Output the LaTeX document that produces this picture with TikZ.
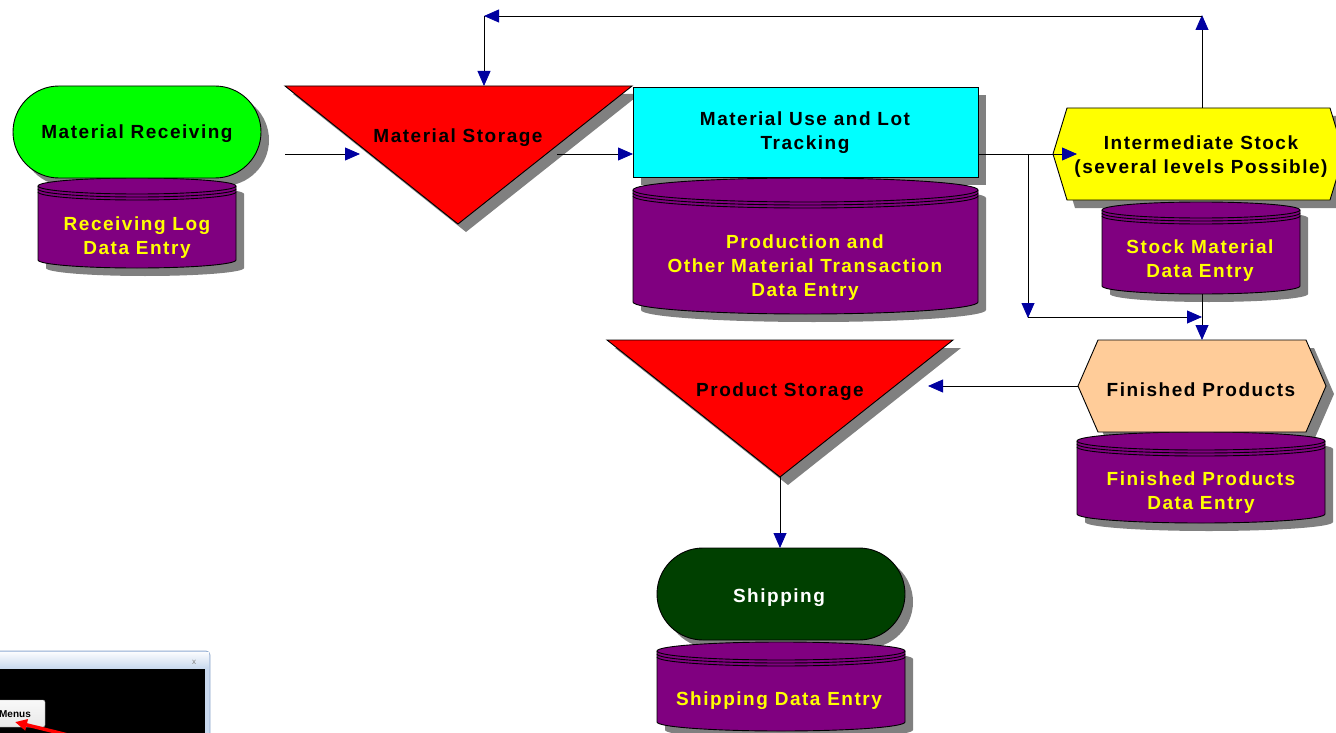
\documentclass[tikz,border=0pt]{standalone}
\usepackage{fontspec}
\setmainfont{Liberation Sans}[LetterSpace=8]
\newfontfamily\uifont{Liberation Sans}
\usetikzlibrary{arrows.meta}
\definecolor{cylpurple}{HTML}{800080}
\definecolor{shadowgray}{HTML}{808080}
\definecolor{arrowblue}{HTML}{0000A0}
\definecolor{brightgreen}{HTML}{00FF00}
\definecolor{brightcyan}{HTML}{00FFFF}
\definecolor{brightyellow}{HTML}{FFFF00}
\definecolor{brightred}{HTML}{FF0000}
\definecolor{peach}{HTML}{FFCC99}
\definecolor{darkgreen}{HTML}{004000}
\definecolor{textyellow}{HTML}{FFFF00}
\definecolor{framebl}{HTML}{C9D9EE}
\definecolor{frameedge}{HTML}{8EA8CC}
\tikzset{
  lbl/.style={font=\bfseries\fontsize{19}{24}\selectfont, align=center, inner sep=0pt, yshift=-2.5pt},
  ylbl/.style={lbl, text=textyellow},
  shd/.style={fill=shadowgray, draw=none, shift={(8,8)}},
  outline/.style={draw=black, line width=0.9pt},
  conn/.style={draw=black, line width=0.8pt, -{Triangle[length=15pt,width=13pt,color=arrowblue]}},
}
\newcommand\stadiumpath[5][]{%
  \pgfmathsetmacro\rst{(#5-#3)/2}%
  \path[#1] ({#2+\rst},#3) -- ({#4-\rst},#3) arc[start angle=-90,end angle=90,radius=\rst] -- ({#2+\rst},#5) arc[start angle=90,end angle=270,radius=\rst] -- cycle;}
\newcommand\cylpath[6][]{%
  \pgfmathsetmacro\rxc{(#3-#2)/2}%
  \path[#1] (#2,{#4+#6}) -- (#2,{#5-#6}) arc[start angle=180,end angle=0,x radius=\rxc,y radius=#6] -- (#3,{#4+#6}) arc[start angle=0,end angle=-180,x radius=\rxc,y radius=#6] -- cycle;}
\newcommand\cyllines[4]{%
  \pgfmathsetmacro\rxc{(#2-#1)/2}%
  \foreach \o in {0,3,6} {\draw[outline] (#1,{#3+#4+\o}) arc[start angle=180,end angle=0,x radius=\rxc,y radius=#4];}}
\begin{document}
\begin{tikzpicture}[x=1pt,y=-1pt]
\useasboundingbox (0,0) rectangle (1336,733);
\clip (0,0) rectangle (1336,733);
% ---------- shadows ----------
\stadiumpath[shd]{13}{86}{261}{178}
\cylpath[shd]{38}{236}{178}{268}{8}
\path[shd] (285,86) -- (632,86) -- (458,224) -- cycle;
\path[shd] (633,87) rectangle (978,177);
\cylpath[shd]{633}{978}{178}{314}{12}
\path[shd] (1053,154) -- (1067,108) -- (1330,108) -- (1344,154) -- (1330,200) -- (1067,200) -- cycle;
\cylpath[shd]{1102}{1300}{202}{294}{8}
\path[shd] (1078,386) -- (1098,340) -- (1306,340) -- (1326,386) -- (1306,432) -- (1098,432) -- cycle;
\cylpath[shd]{1077}{1325}{432}{523}{9}
\path[shd] (607,340) -- (953,340) -- (780,477) -- cycle;
\stadiumpath[shd]{657}{548}{905}{640}
\cylpath[shd]{657}{905}{642}{731}{9}
% ---------- cylinders ----------
\cylpath[fill=cylpurple,outline]{38}{236}{178}{268}{8}
\cyllines{38}{236}{178}{8}
\cylpath[fill=cylpurple,outline]{633}{978}{178}{314}{12}
\cyllines{633}{978}{178}{12}
\cylpath[fill=cylpurple,outline]{1102}{1300}{202}{294}{8}
\cyllines{1102}{1300}{202}{8}
\cylpath[fill=cylpurple,outline]{1077}{1325}{432}{523}{9}
\cyllines{1077}{1325}{432}{9}
\cylpath[fill=cylpurple,outline]{657}{905}{642}{731}{9}
\cyllines{657}{905}{642}{9}
% ---------- main shapes ----------
\stadiumpath[fill=brightgreen,outline]{13}{86}{261}{178}
\path[fill=brightred,outline] (285,86) -- (632,86) -- (458,224) -- cycle;
\path[fill=brightcyan,outline] (633,87) rectangle (978,177);
\path[fill=brightyellow,outline] (1053,154) -- (1067,108) -- (1330,108) -- (1344,154) -- (1330,200) -- (1067,200) -- cycle;
\path[fill=peach,outline] (1078,386) -- (1098,340) -- (1306,340) -- (1326,386) -- (1306,432) -- (1098,432) -- cycle;
\path[fill=brightred,outline] (607,340) -- (953,340) -- (780,477) -- cycle;
\stadiumpath[fill=darkgreen,outline]{657}{548}{905}{640}
% ---------- labels ----------
\node[lbl] (mr) at (137,131) {Material Receiving};
\node[ylbl] (rl) at (137,235) {Receiving Log\\Data Entry};
\node[lbl] (ms) at (458,135) {Material Storage};
\node[lbl] (mu) at (805,130) {Material Use and Lot\\Tracking};
\node[ylbl] (pd) at (805,265) {Production and\\Other Material Transaction\\Data Entry};
\node[lbl] (is) at (1201,154) {Intermediate Stock\\(several levels Possible)};
\node[ylbl] (sm) at (1200,258) {Stock Material\\Data Entry};
\node[lbl] (fp) at (1201,387) {Finished Products};
\node[ylbl] (fpd) at (1201,490) {Finished Products\\Data Entry};
\node[lbl] (ps) at (780,389) {Product Storage};
\node[lbl,text=white] (sh) at (779,595) {Shipping};
\node[ylbl] (shd) at (779,698) {Shipping Data Entry};
% ---------- connector end points ----------
\coordinate (mrOut) at (285,154);
\coordinate (msIn) at (360,154);
\coordinate (msOut) at (557,154);
\coordinate (muIn) at (633,154);
\coordinate (muOut) at (978,154);
\coordinate (isIn) at (1077,154);
\coordinate (isTop) at (1202,108);
\coordinate (loopR) at (1202,15);
\coordinate (loopR2) at (1202,16);
\coordinate (loopL) at (484,16);
\coordinate (msTop) at (484,86);
\coordinate (brTop) at (1028,154);
\coordinate (brBot) at (1028,318);
\coordinate (brBot2) at (1028,317);
\coordinate (brEnd) at (1202,317);
\coordinate (smBot) at (1202,294);
\coordinate (fpTop) at (1202,340);
\coordinate (fpLeft) at (1078,386);
\coordinate (psIn) at (928,386);
\coordinate (psApex) at (780,477);
\coordinate (shTop) at (780,548);
% ---------- connectors ----------
\draw[conn] (mrOut) -- (msIn);
\draw[conn] (msOut) -- (muIn);
\draw[conn] (muOut) -- (isIn);
\draw[conn] (isTop) -- (loopR);
\draw[conn] (loopR2) -- (loopL);
\draw[conn] (loopL) -- (msTop);
\draw[conn] (brTop) -- (brBot);
\draw[conn] (brBot2) -- (brEnd);
\draw[conn] (smBot) -- (fpTop);
\draw[conn] (fpLeft) -- (psIn);
\draw[conn] (psApex) -- (shTop);
% ---------- window fragment, bottom left ----------
\path[fill=framebl, draw=frameedge, line width=0.8pt, rounded corners=4pt] (-5,651) -- (210,651) -- (210,740) -- (-5,740) -- cycle;
\shade[top color=white!92!framebl, bottom color=framebl] (0,652) rectangle (209,668);
\node[font=\uifont\fontsize{8}{8}\selectfont, text=gray, inner sep=0pt] (winx) at (194,662) {x};
\path[fill=black] (0,669) rectangle (205,740);
\shade[top color=white!95!gray, bottom color=white!82!gray, draw=gray!80, rounded corners=2pt] (-5,700) rectangle (45,727);
\node[font=\uifont\bfseries\fontsize{10}{10}\selectfont, inner sep=0pt] (menus) at (15,714) {Menus};
\coordinate (redS) at (80,738);
\coordinate (redE) at (15,722);
\draw[red, line width=3.5pt, -{Triangle[length=12pt,width=11pt]}] (redS) -- (redE);
\end{tikzpicture}
\end{document}
